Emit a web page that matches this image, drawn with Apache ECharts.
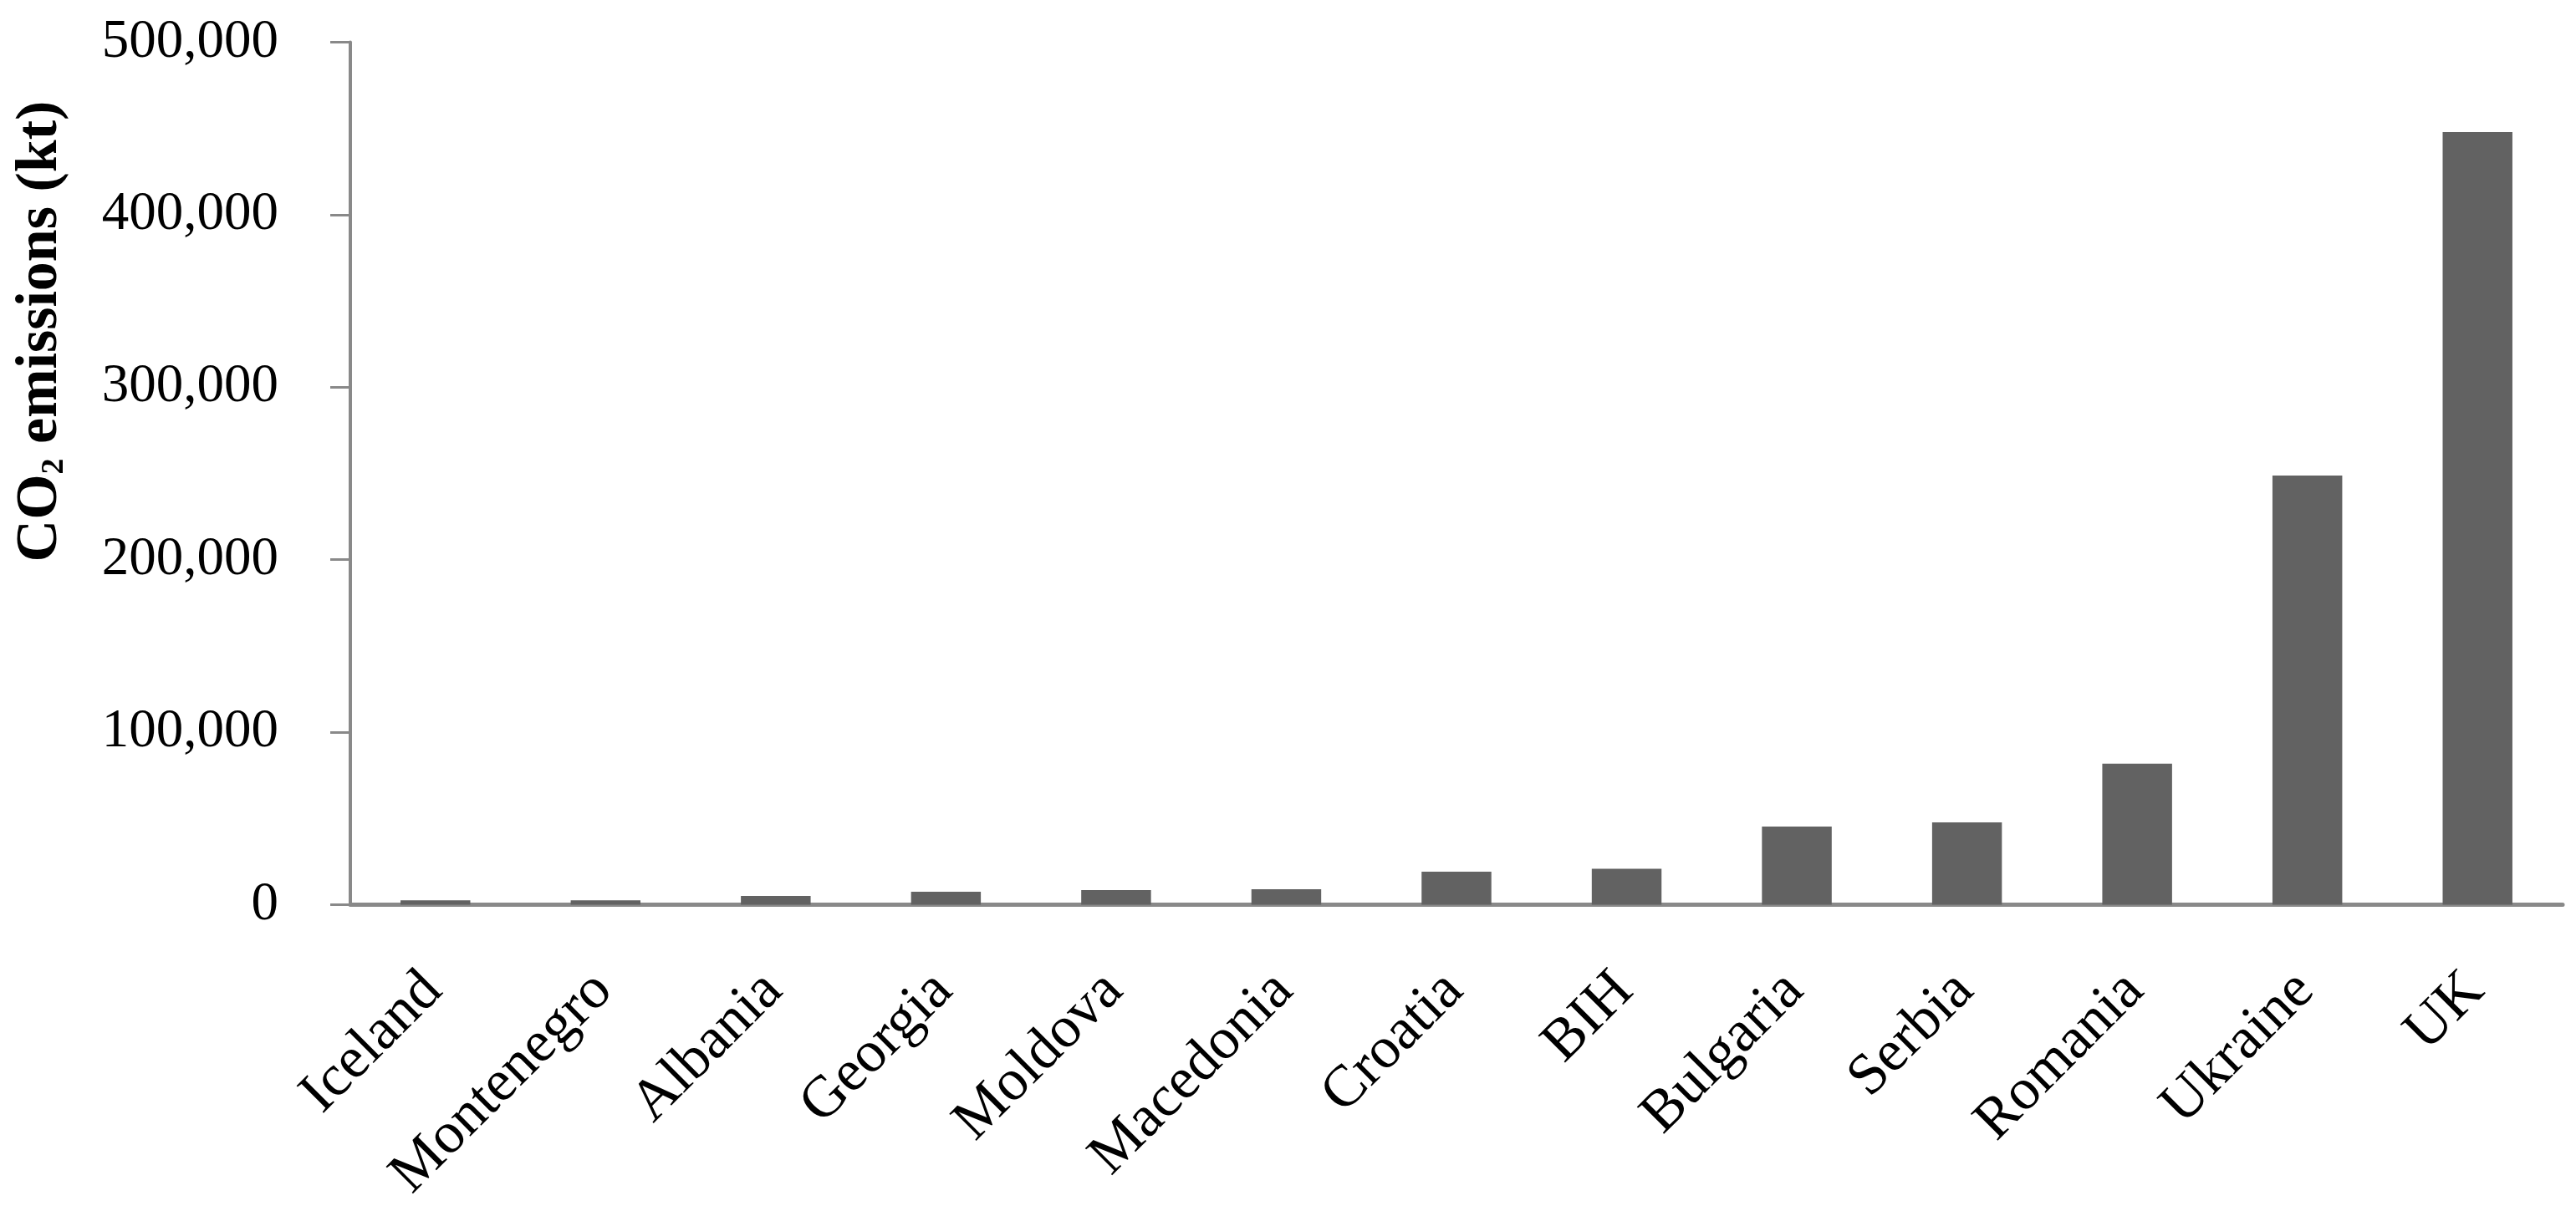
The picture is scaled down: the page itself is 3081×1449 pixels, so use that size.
<!DOCTYPE html>
<html>
<head>
<meta charset="utf-8">
<script src="https://cdn.jsdelivr.net/npm/echarts@6/dist/echarts.min.js"></script>
<style>
  html, body { margin: 0; padding: 0; background: #fff; }
  #chart { width: 3081px; height: 1449px; }
</style>
</head>
<body>
<div id="chart"></div>
<script>
// countries, sorted by emissions
const countries = ['Iceland', 'Montenegro', 'Albania', 'Georgia', 'Moldova', 'Macedonia',
  'Croatia', 'BIH', 'Bulgaria', 'Serbia', 'Romania', 'Ukraine', 'UK']
// CO2 emissions in kt
const emissions = [2500, 2600, 5100, 7500, 8500, 9000,
  19100, 20800, 45300, 47700, 81700, 248800, 447900]
const yTicks = [0, 100000, 200000, 300000, 400000, 500000]

const axisGrey = '#898989'
const barGrey = '#626262'
const serif = 'Liberation Serif, Times New Roman, serif'

const chart = echarts.init(document.getElementById('chart'), null, { renderer: 'canvas' })

const option = {
  backgroundColor: '#fff',
  animation: false,
  grid: {
    left: 419,
    right: 16,
    top: 50.5,
    bottom: 366.5,
    outerBoundsMode: 'none'
  },
  xAxis: {
    type: 'category',
    data: countries,
    axisLine: { show: true, lineStyle: { color: axisGrey, width: 5 } },
    axisTick: { show: false },
    axisLabel: {
      interval: 0,
      rotate: 45,
      margin: 40,
      align: 'right',
      verticalAlign: 'top',
      padding: [0, 39, 0, 0],
      color: '#000',
      fontFamily: serif,
      fontSize: 70
    },
    splitLine: { show: false }
  },
  yAxis: {
    type: 'value',
    min: yTicks[0],
    max: yTicks[yTicks.length - 1],
    interval: yTicks[1] - yTicks[0],
    name: '{m|CO}{s|2}{m| emissions (kt)}',
    nameLocation: 'middle',
    nameRotate: 90,
    nameGap: 335,
    nameTextStyle: {
      padding: [0, 0, 0, 340],
      rich: {
        m: { fontFamily: serif, fontWeight: 'bold', fontSize: 70, lineHeight: 70, color: '#000' },
        s: { fontFamily: serif, fontWeight: 'bold', fontSize: 38, lineHeight: 38, verticalAlign: 'bottom', color: '#000' }
      }
    },
    axisLine: { show: true, lineStyle: { color: axisGrey, width: 4 } },
    axisTick: { show: true, length: 24, lineStyle: { color: axisGrey, width: 3 } },
    axisLabel: {
      margin: 86,
      color: '#000',
      fontFamily: serif,
      fontSize: 65,
      formatter: v => v.toLocaleString('en-US')
    },
    splitLine: { show: false }
  },
  series: [
    {
      type: 'bar',
      data: emissions,
      barWidth: '41%',
      itemStyle: { color: barGrey }
    }
  ]
}

chart.setOption(option)
</script>
</body>
</html>
